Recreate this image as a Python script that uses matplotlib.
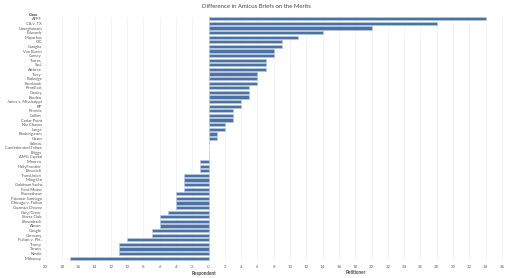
import matplotlib
matplotlib.use("Agg")
import matplotlib.pyplot as plt
from matplotlib.ticker import FuncFormatter, MultipleLocator

cases = ["AFPF", "CA v. TX", "Uzuegbunam", "Edwards", "Mayorkas", "CIC",
         "Caniglia", "Van Buren", "Carney", "Torres", "Saul", "Arthrex",
         "Terry", "Rutledge", "Facebook", "PennEast", "Cooley", "Borden",
         "Jones v. Mississippi", "BP", "Pereida", "Collins", "Cedar Point",
         "Niz Chavez", "Lange", "Booking.com", "Guam", "Salinas",
         "Confederated Tribes", "Briggs", "AMG Capital", "Minerva",
         "HollyFrontier", "Brnovich", "TransUnion", "Ming Dai",
         "Goldman Sachs", "Ford Motor", "Prometheus", "Palomar Santiago",
         "Chicago v. Fulton", "Guzman Chavez", "Gary/Greer", "Sierra Club",
         "Brownback", "Alston", "Google", "Germany", "Fulton v. Phi..",
         "Trump", "Tanzin", "Nestle", "Mahanoy"]
diff = [34, 28, 20, 14, 11, 9, 9, 8, 8, 7, 7, 7, 6, 6, 6, 5, 5, 5, 4, 4,
        3, 3, 3, 2, 2, 1, 1, 0, 0, 0, 0, -1, -1, -1, -3, -3, -3, -3, -4,
        -4, -4, -4, -5, -6, -6, -6, -7, -7, -10, -11, -11, -11, -17]

plt.rcParams['font.family'] = ['Lato', 'DejaVu Sans']

fig = plt.figure(figsize=(5.12, 2.78), dpi=100)
ax = fig.add_axes([44 / 512, 1 - 260.5 / 278, (510 - 44) / 512, (260.5 - 16.5) / 278])

ypos = list(range(len(cases)))
ax.barh(ypos, diff, height=0.7, color='#4a72a4', edgecolor='#b9c9de', linewidth=0.5, zorder=3)

ax.set_xlim(-20.2, 37)
ax.set_ylim(len(cases) - 0.5, -0.5)
ax.set_yticks(ypos)
ax.set_yticklabels(cases, fontsize=3.0, color='#555555')
ax.xaxis.set_major_locator(MultipleLocator(2))
ax.xaxis.set_major_formatter(FuncFormatter(lambda v, p: f"{abs(int(round(v)))}"))
ax.tick_params(axis='x', labelsize=3.2, colors='#666666', length=0, pad=3)
ax.tick_params(axis='y', length=0, pad=1.5)
ax.grid(axis='x', color='#f0f0f0', linewidth=0.5, zorder=0)
ax.axvline(0, color='#dddddd', linewidth=0.5, zorder=1)
for s in ax.spines.values():
    s.set_visible(False)

fig.text(256 / 512, 1 - 6 / 278, "Difference in Amicus Briefs on the Merits",
         ha='center', va='center', fontsize=4.3, color='#444444')
fig.text(38 / 512, 1 - 14.5 / 278, "Case", ha='right', va='center',
         fontsize=3.2, fontweight='bold', color='#333333')
fig.text(204 / 512, 1 - 273 / 278, "Respondent", ha='center', va='center',
         fontsize=3.3, fontweight='bold', color='#444444')
fig.text(356 / 512, 1 - 273 / 278, "Petitioner", ha='center', va='center',
         fontsize=3.3, fontweight='bold', color='#444444')

fig.savefig("out.png", dpi=100)
